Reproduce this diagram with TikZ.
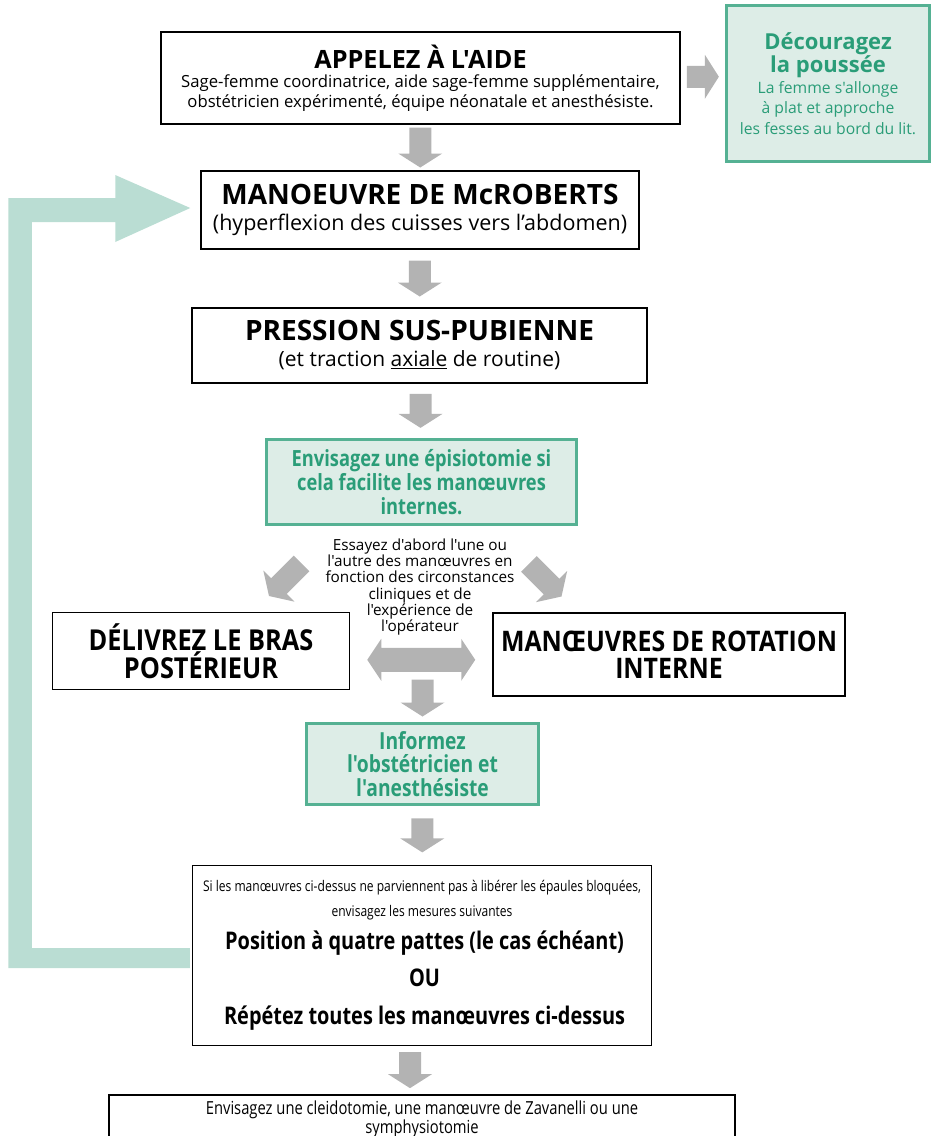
\documentclass[tikz,border=0pt]{standalone}
\usepackage{fontspec}
\setmainfont[Ligatures=TeXOff]{Open Sans}
\newfontfamily\narrowfont[FakeStretch=0.82, Ligatures=TeXOff]{Open Sans}
\newfontfamily\capsfont[FakeStretch=0.88, Ligatures=TeXOff]{Open Sans}
\usetikzlibrary{calc}

\definecolor{arrowgray}{HTML}{B3B3B3}
\definecolor{loopgreen}{HTML}{BADDD3}
\definecolor{greenfill}{HTML}{DDEDE7}
\definecolor{greenline}{HTML}{55B193}
\definecolor{greentext}{HTML}{2A9D78}

\newcommand{\sz}[2]{\fontsize{#1}{#2}\selectfont}
% gray block arrow: centre, angle, length
\newcommand{\blockarrow}[3]{%
  \fill[arrowgray, shift={#1}, rotate=#2]
    ({-#3/2},-11) -- ({#3/2-14},-11) -- ({#3/2-14},-22) -- ({#3/2},0)
    -- ({#3/2-14},22) -- ({#3/2-14},11) -- ({-#3/2},11) -- cycle;}

\tikzset{
  box/.style={draw=black, line width=1.5pt, fill=white, align=center, inner sep=2pt},
  greenbox/.style={draw=greenline, line width=3pt, fill=greenfill, text=greentext, align=center, inner sep=2pt},
}

\begin{document}
\begin{tikzpicture}[x=1pt, y=-1pt]
	\useasboundingbox (0,0) rectangle (936,1136);

	\draw (420.5,78) node[box, minimum width=519pt, minimum height=92pt, font=\sz{16.7}{19.5}] (help)
		{{\sz{25.2}{26}\bfseries APPELEZ À L'AIDE}\\
		Sage-femme coordinatrice, aide sage-femme supplémentaire,\\
		obstétricien expérimenté, équipe néonatale et anesthésiste.};
	\draw (828,83.5) node[greenbox, minimum width=203pt, minimum height=156pt, font=\sz{15.7}{20.5}] (push)
		{{\sz{22}{22}\bfseries Découragez}\\
		{\sz{22}{22}\bfseries la poussée}\\
		La femme s'allonge\\
		à plat et approche\\
		les fesses au bord du lit.};

	\draw (420,210) node[box, minimum width=438pt, minimum height=78pt, font=\sz{21.5}{26}] (mcr)
		{{\sz{28}{30}\bfseries MANOEUVRE DE McROBERTS}\\
		(hyperflexion des cuisses vers l’abdomen)};
	\draw (419.5,345.5) node[box, minimum width=455pt, minimum height=75pt, font=\sz{21}{26}] (press)
		{{\sz{28}{28}\bfseries PRESSION SUS-PUBIENNE}\\
		(et traction \underline{axiale} de routine)};
	\draw (421.5,482) node[greenbox, minimum width=310pt, minimum height=85pt, font=\narrowfont\bfseries\sz{22.3}{24}] (epi)
		{Envisagez une épisiotomie si\\cela facilite les manœuvres\\internes.};

	\draw (420,587) node[align=center, font=\sz{15.3}{16.3}] (note)
		{Essayez d'abord l'une ou\\l'autre des manœuvres en\\fonction des circonstances\\cliniques et de\\l'expérience de\\l'opérateur};

	\draw (201,651) node[box, minimum width=297pt, minimum height=77pt, font=\capsfont\bfseries\sz{28.8}{27}] (arm)
		{DÉLIVREZ LE BRAS\\POSTÉRIEUR};
	\draw (669,654.5) node[box, minimum width=352pt, minimum height=83pt, font=\capsfont\bfseries\sz{28.3}{27}] (rot)
		{MANŒUVRES DE ROTATION\\INTERNE};

	\draw (422.5,764) node[greenbox, minimum width=232pt, minimum height=81pt, font=\narrowfont\bfseries\sz{23.5}{23.5}] (inform)
		{Informez\\l'obstétricien et\\l'anesthésiste};

	\draw (422,955.5) node[box, minimum width=459pt, minimum height=180pt, font=\narrowfont\sz{14.7}{25}] (fail)
		{Si les manœuvres ci-dessus ne parviennent pas à libérer les épaules bloquées,\\
		envisagez les mesures suivantes\\[8pt]
		{\bfseries\sz{24.3}{25} Position à quatre pattes (le cas échéant)}\\[12pt]
		{\bfseries\sz{24.3}{25} OU}\\[13pt]
		{\bfseries\sz{24.3}{25} Répétez toutes les manœuvres ci-dessus}};

	\draw (422,1094) node[box, anchor=north, minimum width=626pt, inner ysep=6pt, font=\narrowfont\sz{18}{19}] (last)
		{Envisagez une cleidotomie, une manœuvre de Zavanelli ou une\\symphysiotomie};

	% gray arrows
	\blockarrow{($(help.south)!0.5!(mcr.north)$)}{-90}{40}
	\blockarrow{($(help.east)!0.5!(push.west)+(0,-4)$)}{0}{32}
	\blockarrow{($(mcr.south)!0.5!(press.north)$)}{-90}{36}
	\blockarrow{($(press.south)!0.5!(epi.north)$)}{-90}{34}
	\blockarrow{($(arm.north east)+(-65,-32)$)}{-135}{46}
	\blockarrow{($(rot.north west)+(53,-32)$)}{-45}{46}
	\blockarrow{($(inform.north)+(0,-24)$)}{-90}{37}
	\blockarrow{($(inform.south)!0.5!(fail.north)$)}{-90}{34}
	\blockarrow{($(fail.south)!0.5!(last.north)+(-12,0)$)}{-90}{36}
	\coordinate (dbl) at ($(arm.east)!0.5!(rot.west)+(0,7)$);
	\fill[arrowgray, shift={(dbl)}] (-54,0) -- (-40,-21) -- (-40,-12) -- (40,-12) -- (40,-21)
		-- (54,0) -- (40,21) -- (40,12) -- (-40,12) -- (-40,21) -- cycle;

	% loop back to McRoberts
	\coordinate (looptip) at ($(mcr.west)+(-10,-2)$);
	\coordinate (loopstart) at ($(fail.west)+(-2,2.5)$);
	\fill[loopgreen] (looptip) -- ++(-75,-33) -- ++(0,23) -- ++(-107,0)
		|- ($(loopstart)+(0,10)$) -- ++(0,-20) -- ++(-158,0)
		|- ($(looptip)+(-75,14)$) -- ++(0,20) -- cycle;
\end{tikzpicture}
\end{document}
